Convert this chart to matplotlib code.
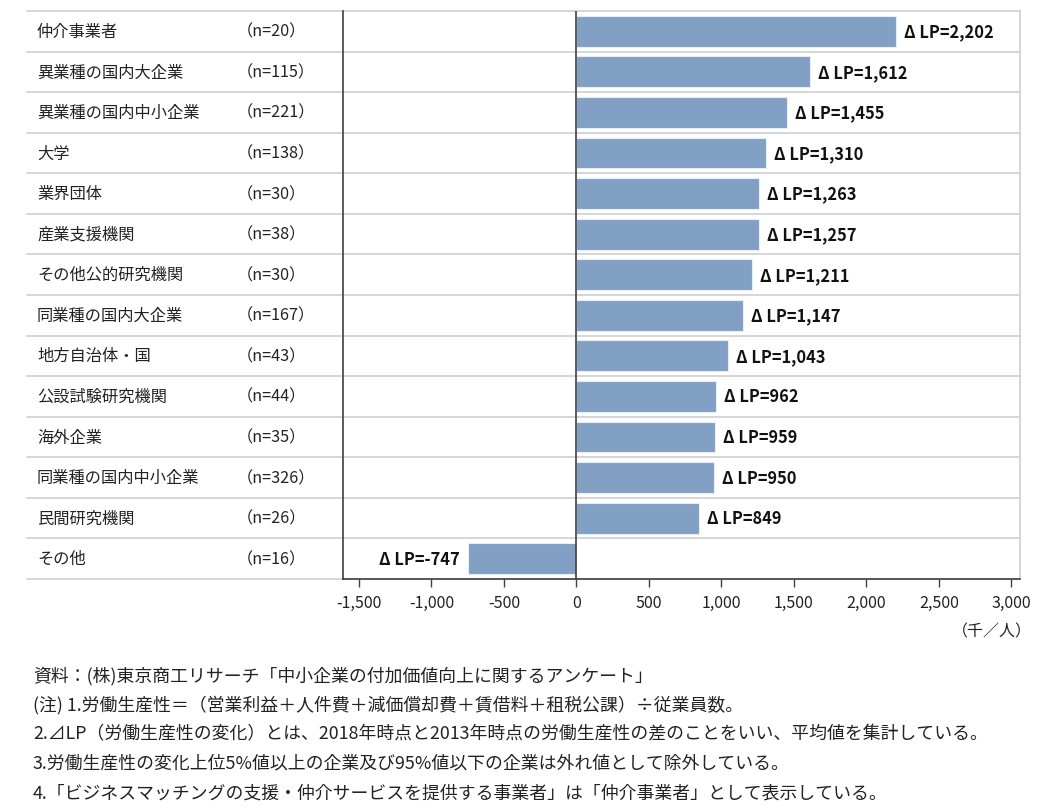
import matplotlib
matplotlib.use("Agg")
import matplotlib.pyplot as plt

plt.rcParams['font.family'] = ['Noto Sans CJK JP', 'DejaVu Sans']

# データ（上から順）
categories = ["仲介事業者", "異業種の国内大企業", "異業種の国内中小企業", "大学", "業界団体",
              "産業支援機関", "その他公的研究機関", "同業種の国内大企業", "地方自治体・国",
              "公設試験研究機関", "海外企業", "同業種の国内中小企業", "民間研究機関", "その他"]
n_labels = ["（n=20）", "（n=115）", "（n=221）", "（n=138）", "（n=30）", "（n=38）", "（n=30）",
            "（n=167）", "（n=43）", "（n=44）", "（n=35）", "（n=326）", "（n=26）", "（n=16）"]
values = [2202, 1612, 1455, 1310, 1263, 1257, 1211, 1147, 1043, 962, 959, 950, 849, -747]
x_ticks = [-1500, -1000, -500, 0, 500, 1000, 1500, 2000, 2500, 3000]

notes = [
    "資料：(株)東京商工リサーチ「中小企業の付加価値向上に関するアンケート」",
    "(注) 1.労働生産性＝（営業利益＋人件費＋減価償却費＋賃借料＋租税公課）÷従業員数。",
    "2.⊿LP（労働生産性の変化）とは、2018年時点と2013年時点の労働生産性の差のことをいい、平均値を集計している。",
    "3.労働生産性の変化上位5%値以上の企業及び95%値以下の企業は外れ値として除外している。",
    "4.「ビジネスマッチングの支援・仲介サービスを提供する事業者」は「仲介事業者」として表示している。",
]

W, H = 1054, 812
fig = plt.figure(figsize=(W / 100, H / 100), dpi=100)
ax_l, ax_r, ax_t, ax_b = 343, 1020, 12, 580
ax = fig.add_axes([ax_l / W, 1 - ax_b / H, (ax_r - ax_l) / W, (ax_b - ax_t) / H])

bar_color = "#82a0c4"
grid_color = "#d0d0d0"
dark = "#404040"
txt = "#222222"

ypos = list(range(len(categories)))
ax.barh(ypos, values, height=0.76, color=bar_color, edgecolor="#e8eef5", linewidth=0.8, zorder=2)

ax.set_xlim(-1610, 3060)
ax.set_ylim(len(categories) - 0.5, -0.5)

# 表の横線（ラベル列まで伸ばす）
x0 = (27 - ax_l) / (ax_r - ax_l)
trans = ax.get_yaxis_transform()
for i in range(len(categories) + 1):
    ax.plot([x0, 1], [i - 0.5, i - 0.5], transform=trans, color=grid_color,
            linewidth=1.2, clip_on=False, zorder=1)

ax.axvline(0, color=dark, linewidth=1.2, zorder=3)

# ラベル
for i, (c, n, v) in enumerate(zip(categories, n_labels, values)):
    ax.text((37 - ax_l) / (ax_r - ax_l), i, c, transform=trans, ha="left", va="center",
            fontsize=11.7, color=txt)
    ax.text((237 - ax_l) / (ax_r - ax_l), i, n, transform=trans, ha="left", va="center",
            fontsize=11.7, color=txt)
    label = "Δ LP={:,}".format(v)
    if v >= 0:
        ax.text(v + 55, i, label, ha="left", va="center", fontsize=11.8, fontweight="bold",
                color="#111111")
    else:
        ax.text(v - 55, i, label, ha="right", va="center", fontsize=11.8, fontweight="bold",
                color="#111111")

ax.set_xticks(x_ticks)
ax.set_xticklabels(["{:,}".format(t) for t in x_ticks], fontsize=11.5, color=txt)
ax.set_yticks([])
ax.tick_params(axis="x", direction="out", length=6, width=1, color=dark, pad=5)

ax.spines["top"].set_visible(False)
ax.spines["right"].set_color(grid_color)
ax.spines["right"].set_linewidth(1.2)
ax.spines["left"].set_color(dark)
ax.spines["left"].set_linewidth(1.2)
ax.spines["bottom"].set_color(dark)
ax.spines["bottom"].set_linewidth(1.2)

fig.text(1032 / W, 1 - 632 / H, "（千／人）", ha="right", va="center", fontsize=11.5, color=txt)

note_y = [676, 705, 734, 763, 794]
for y, t in zip(note_y, notes):
    fig.text(33 / W, 1 - y / H, t, ha="left", va="center", fontsize=12.85, color=txt)

fig.savefig("out.png", dpi=100)
